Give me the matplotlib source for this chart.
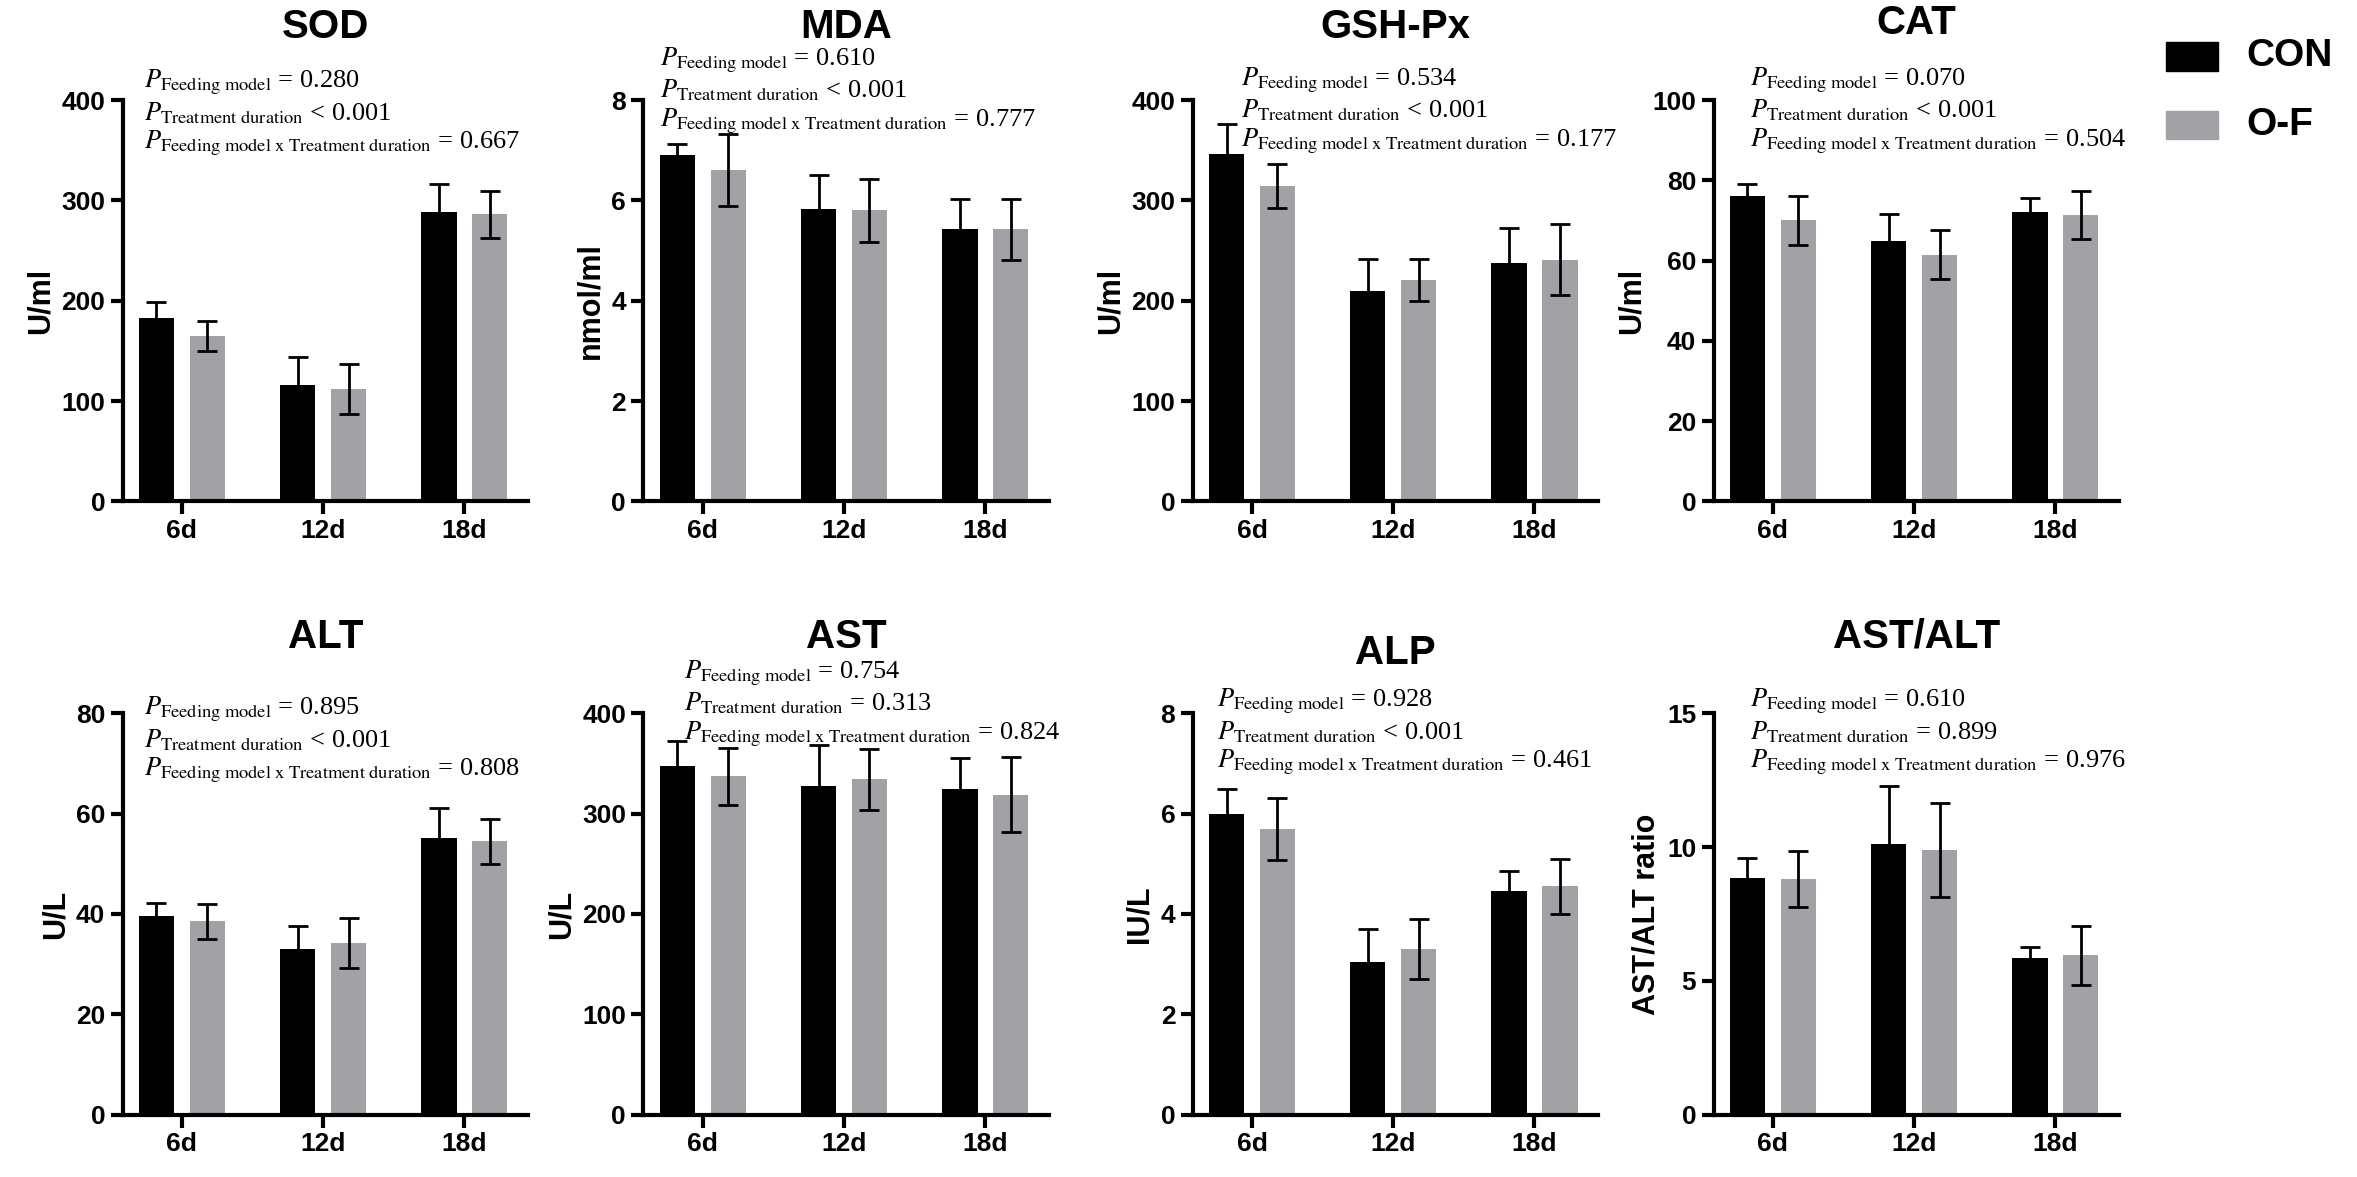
import matplotlib
matplotlib.use('Agg')
import matplotlib.pyplot as plt
import numpy as np

plt.rcParams['font.family'] = ['Liberation Sans', 'DejaVu Sans']
plt.rcParams['mathtext.fontset'] = 'stix'

# --- data ---
days = ['6d', '12d', '18d']
titles = ['SOD', 'MDA', 'GSH-Px', 'CAT', 'ALT', 'AST', 'ALP', 'AST/ALT']
ylabels = ['U/ml', 'nmol/ml', 'U/ml', 'U/ml', 'U/L', 'U/L', 'IU/L', 'AST/ALT ratio']
ymax = [400, 8, 400, 100, 80, 400, 8, 15]
ystep = [100, 2, 100, 20, 20, 100, 2, 5]

con_mean = [[183, 116, 288], [6.9, 5.82, 5.42], [346, 210, 238], [76, 65, 72],
            [39.5, 33, 55.2], [347, 328, 325], [6.0, 3.05, 4.45], [8.85, 10.1, 5.85]]
con_err = [[16, 28, 28], [0.22, 0.68, 0.6], [30, 32, 34], [3, 6.5, 3.5],
           [2.7, 4.5, 6], [25, 40, 30], [0.5, 0.65, 0.4], [0.75, 2.2, 0.4]]
of_mean = [[165, 112, 286], [6.6, 5.8, 5.42], [314, 221, 241], [70, 61.5, 71.3],
           [38.5, 34.2, 54.5], [337, 334, 319], [5.7, 3.3, 4.55], [8.8, 9.9, 5.95]]
of_err = [[15, 25, 23], [0.72, 0.62, 0.6], [22, 21, 35], [6, 6, 6],
          [3.5, 5, 4.5], [28, 30, 37], [0.62, 0.6, 0.55], [1.05, 1.75, 1.1]]

p_feed = ['= 0.280', '= 0.610', '= 0.534', '= 0.070', '= 0.895', '= 0.754', '= 0.928', '= 0.610']
p_time = ['< 0.001', '< 0.001', '< 0.001', '< 0.001', '< 0.001', '= 0.313', '< 0.001', '= 0.899']
p_inter = ['= 0.667', '= 0.777', '= 0.177', '= 0.504', '= 0.808', '= 0.824', '= 0.461', '= 0.976']

# layout (figure fractions / axes fractions)
lefts = [0.052, 0.273, 0.506, 0.727]
bottoms = [0.574, 0.053]
W, H = 0.172, 0.341
p_x = [0.053, 0.04, 0.12, 0.09, 0.053, 0.10, 0.06, 0.09]
p_y = [1.043, 1.10, 1.05, 1.05, 1.01, 1.10, 1.03, 1.03]
title_y = [1.16, 1.16, 1.16, 1.17, 1.17, 1.17, 1.13, 1.17]

GREY = '#a2a2a6'
fig = plt.figure(figsize=(23.57, 11.77), dpi=100)
x = np.arange(3)
bw, off = 0.25, 0.18

for i in range(8):
    ax = fig.add_axes([lefts[i % 4], bottoms[i // 4], W, H])
    ax.bar(x - off, con_mean[i], bw, color='black', zorder=2)
    ax.bar(x + off, of_mean[i], bw, color=GREY, zorder=2)
    ax.errorbar(x - off, con_mean[i], yerr=con_err[i], fmt='none', ecolor='black',
                elinewidth=2, capsize=7, capthick=2, zorder=3)
    ax.errorbar(x + off, of_mean[i], yerr=of_err[i], fmt='none', ecolor='black',
                elinewidth=2, capsize=7, capthick=2, zorder=3)
    ax.set_xlim(-0.42, 2.45)
    ax.set_ylim(0, ymax[i])
    ax.set_yticks(np.arange(0, ymax[i] + ystep[i] / 2, ystep[i]))
    ax.set_xticks(x)
    ax.set_xticklabels(days)
    for s in ['top', 'right']:
        ax.spines[s].set_visible(False)
    for s in ['left', 'bottom']:
        ax.spines[s].set_linewidth(3)
    ax.tick_params(width=3, length=9, labelsize=19)
    for lab in ax.get_xticklabels() + ax.get_yticklabels():
        lab.set_fontweight('bold')
    ax.set_ylabel(ylabels[i], fontsize=22, fontweight='bold')
    ax.set_title(titles[i], fontsize=29, fontweight='bold', y=title_y[i], va='center')
    lines = [(r'Feeding\ model', p_feed[i]),
             (r'Treatment\ duration', p_time[i]),
             (r'Feeding\ model\ x\ Treatment\ duration', p_inter[i])]
    for k, (sub, val) in enumerate(lines):
        ax.text(p_x[i], p_y[i] - k * 0.076,
                r'$\mathit{P}_{\mathrm{' + sub + r'}}$ ' + val,
                transform=ax.transAxes, fontsize=19, family='Liberation Serif',
                va='center', ha='left')

# legend
fig.patches.append(plt.Rectangle((0.919, 0.940), 0.022, 0.024, color='black',
                                 transform=fig.transFigure))
fig.patches.append(plt.Rectangle((0.919, 0.882), 0.022, 0.024, color=GREY,
                                 transform=fig.transFigure))
fig.text(0.953, 0.952, 'CON', fontsize=28, fontweight='bold', va='center')
fig.text(0.953, 0.894, 'O-F', fontsize=28, fontweight='bold', va='center')

fig.savefig('out.png', dpi=100)
